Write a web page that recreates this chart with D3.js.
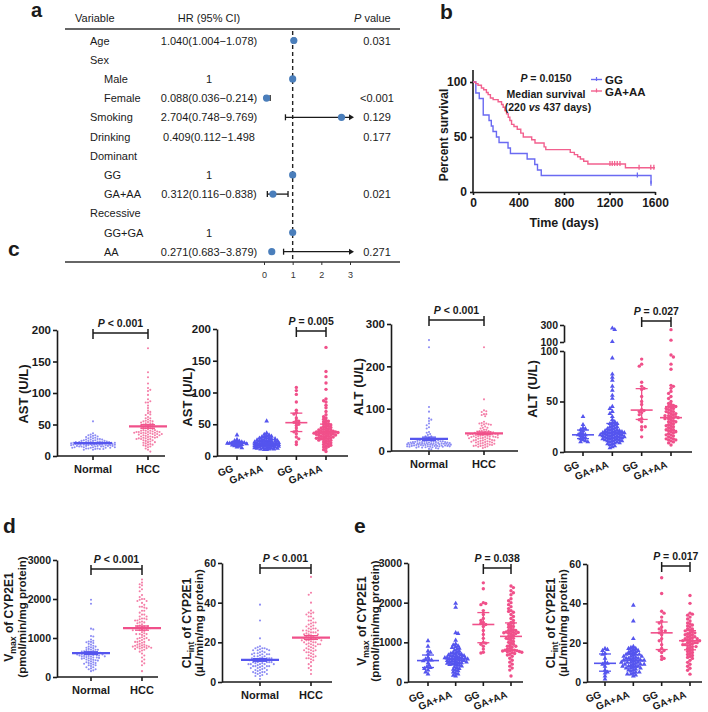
<!DOCTYPE html>
<html><head><meta charset="utf-8">
<script src="https://cdn.jsdelivr.net/npm/d3@7/dist/d3.min.js"></script>
<style>html,body{margin:0;padding:0;background:#fff;}svg{display:block;}</style>
</head><body>
<svg id="fig" width="708" height="712"></svg>
<script>
// ================= DATA =================
// Panel a: forest plot
const forestVars   = ["Age","Sex","Male","Female","Smoking","Drinking","Dominant","GG","GA+AA","Recessive","GG+GA","AA"];
const forestIndent = [0,0,1,1,0,0,0,1,1,0,1,1];
const forestHRText = ["1.040(1.004\u22121.078)","","1","0.088(0.036\u22120.214)","2.704(0.748\u22129.769)","0.409(0.112\u22121.498","","1","0.312(0.116\u22120.838)","","1","0.271(0.683\u22123.879)"];
const forestHR     = [1.040,null,1,0.088,2.704,null,null,1,0.312,null,1,0.271];
const forestLo     = [1.004,null,null,0.036,0.748,null,null,null,0.116,null,null,0.683];
const forestHi     = [1.078,null,null,0.214,9.769,null,null,null,0.838,null,null,3.879];
const forestP      = ["0.031","","","<0.001","0.129","0.177","","","0.021","","","0.271"];
const forestTicks  = [0,1,2,3];

// Panel b: Kaplan-Meier
const kmGGTime   = [0,25,55,90,141,161,176,206,229,308,329,476,543,567,600,1565];
const kmGGSurv   = [100,90,85,70,65,60,55,50,45,40,35,30,25,20,15,7.5];
const kmGGCensor = [1445,1565];
const kmPinkTime = [0,24,44,74,94,118,133,153,177,221,251,265,280,295,310,324,339,360,389,420,442,516,545,625,640,855,891,920,944,973,1010,1340,1600];
const kmPinkSurv = [100,98.5,97,94.5,93,90.5,88.5,85.5,84,82,79.5,77,74,71,68,65,61.5,59.5,57,53.5,50,47.5,44.5,41,38.5,36,34,32,30,28,25.5,22,22];
const kmPinkCensor = [1204,1224,1245,1268,1292,1460,1563,1590];
const kmXTicks = [0,400,800,1200,1600];
const kmYTicks = [0,50,100];

// Panel c: AST (U/L)
const astGGBlue   = [33,26,24,23,22,22,21,21,20,20,20,19,19,18,18,17,16,15,14,13];
const astGAAABlue = [55,36,34,33,32,31,30,29,28,28,27,26,26,25,25,24,24,23,23,22,22,22,21,21,21,20,20,20,20,19,19,19,19,18,18,18,18,17,17,17,16,16,16,15,15,15,14,14,14,13,13,13,12,12,12,11,11,11,10,10,20,19,18,17,16,15,22,24,27,30];
const astGGPink   = [108,103,97,85,72,68,66,60,56,55,53,52,50,48,44,40,38,35,30,27,22,18];
const astGAAAPink = [171,133,125,115,105,90,87,85,80,76,70,65,62,60,58,56,55,54,52,51,50,49,48,47,46,45,44,43,42,41,40,40,39,39,38,38,37,37,37,36,36,35,35,34,34,33,33,32,31,30,30,29,28,28,27,27,26,25,25,24,23,22,21,20,19,18,17,16,15,14,12,10,7,44,41,38,36,33,31,29];
// Panel c: ALT (U/L)
const altGGBlue   = [35,27,24,23,22,21,19,18,17,17,16,15,14,13,12,11,10,10];
const altGAAABlue = [262,245,104,93,77,74,71,65,61,56,53,45,43,40,38,35,32,30,29,28,28,27,26,25,25,24,23,23,22,22,21,21,20,20,20,19,19,19,18,18,18,17,17,17,16,16,16,15,15,15,14,14,14,13,13,13,12,12,12,11,11,11,10,10,9,9,8,8,7,6,5,4,21,19,17,15];
const altGGPink   = [92,87,85,69,65,63,62,55,50,47,42,41,40,39,37,33,32,30,25,25,22,15];
const altGAAAPink = [245,122,96,94,87,82,66,65,63,60,58,55,53,50,48,46,45,45,44,43,42,41,40,40,39,38,37,36,36,35,35,34,34,33,33,32,31,30,29,28,27,26,25,24,23,22,22,21,20,19,18,17,16,15,14,13,13,12,12,11,10,9,7,47,43,38,30,26,20,17];
// Panels d/e: Vmax (pmol/min/mg protein)
const vmaxGGBlue   = [1040,900,780,750,700,620,580,560,550,530,480,420,380,360,340,300,250,200];
const vmaxGAAABlue = [1980,1880,1240,1220,1050,960,930,910,890,870,850,830,800,780,760,740,720,700,690,680,660,650,640,630,620,610,600,600,590,580,570,560,550,540,530,520,510,500,490,480,470,460,450,440,430,420,400,380,360,340,320,300,280,250,220,200,170,150,620,580,540,500,700,660];
const vmaxGGPink   = [2500,2350,2000,1980,1950,1800,1700,1600,1550,1500,1480,1450,1400,1300,1200,1100,1000,980,950,900,830,750,730];
const vmaxGAAAPink = [2420,2380,2300,2250,2200,2100,2050,2000,1950,1900,1850,1800,1780,1760,1700,1650,1600,1550,1500,1480,1450,1420,1400,1380,1350,1320,1300,1280,1260,1250,1240,1230,1220,1200,1180,1150,1120,1100,1080,1050,1020,1000,980,950,920,900,880,850,830,810,800,790,780,770,760,750,740,720,700,680,650,600,550,500,450,400,350,300,150,1300,1250,1100,900,800,780];
// Panels d/e: CLint (uL/min/mg protein)
const clGGBlue   = [17,16.5,16,14.5,14,12,10,9.5,9,8,6,5,4.5,3,1.5];
const clGAAABlue = [39,31,22,18,17.5,17,17,16.5,16,16,15.5,15,15,14.5,14,14,13.5,13,13,12.5,12,12,12,11.5,11,11,11,10.5,10,10,10,9.5,9,9,9,8.5,8,8,8,7.5,7,7,7,6.5,6,6,5.5,5,5,4.5,4,4,3.5,3,11,12,10,9,13,14,8];
const clGGPink   = [53,45,36,35,33,31,30,28,27,26,26,25,24,22,21,19,17,16,16,15,13,12,11.5];
const clGAAAPink = [44,40,35,34.5,34,33,32,31,30,29.5,29,28.5,28,27,26.5,26,25.5,25,24.5,24,23.5,23,22.5,22,22,21.5,21,21,20.5,20,20,19.5,19,19,18.5,18,18,17.5,17,16.5,16,15.5,15,14.5,14,13.5,13,12.5,12,11,10,9,8,7,6,4,22,21,20,19,24,23,27,25];

const astTicks = [0,50,100,150,200];
const altTicks = [0,100,200,300];
const altLowTicks = [0,50,100];
const altHighTicks = [100,300];
const vmaxTicks = [0,1000,2000,3000];
const clTicks = [0,20,40,60];
const nhCats = ["Normal","HCC"];
const genoCats = ["GG","GA+AA","GG","GA+AA"];

// ================= DRAW =================
const FONT = "'Liberation Sans', Arial, Helvetica, sans-serif";
const BLUE="#5555ee", PINK="#f0508a", BLUE_L="#8c8cf4", PINK_L="#f47fa8", FOREST="#4a7ebb", INK="#1a1a1a";
const KMBLUE="#6a6af2", KMPINK="#f2608e";
const fmtInt = d3.format("d");
const svg = d3.select("#fig").style("font-family",FONT);

function txt(g,x,y,s,o={}){
  const t=g.append("text").attr("x",x).attr("y",y).text(s)
    .attr("font-size",o.size||11).attr("fill",o.fill||INK);
  if(o.bold) t.attr("font-weight","bold");
  if(o.anchor) t.attr("text-anchor",o.anchor);
  return t;
}
function pText(g,x,y,rest,size){
  const t=g.append("text").attr("x",x).attr("y",y).attr("font-size",size)
    .attr("font-weight","bold").attr("text-anchor","middle").attr("fill",INK);
  t.append("tspan").attr("font-style","italic").text("P");
  t.append("tspan").text(rest);
  return t;
}
function styleAxis(sel,size){
  sel.attr("font-family",FONT).attr("font-size",size);
  sel.selectAll(".domain").attr("stroke",INK).attr("stroke-width",1.6);
  sel.selectAll(".tick line").attr("stroke",INK).attr("stroke-width",1.6);
  sel.selectAll(".tick text").attr("font-weight","bold").attr("fill",INK);
}

// ---------- Panel a ----------
const gA = svg.append("g");
txt(gA,31,17,"a",{size:20,bold:true});
const fy = d3.scalePoint().domain(d3.range(forestVars.length)).range([40.5,251.7]);
const fx = d3.scaleLinear().domain([0,3]).range([264,350]);
txt(gA,75,22,"Variable",{size:11});
txt(gA,209,22,"HR (95% CI)",{size:11,anchor:"middle"});
{ const t=gA.append("text").attr("x",354).attr("y",22).attr("font-size",11).attr("fill",INK);
  t.append("tspan").attr("font-style","italic").text("P"); t.append("tspan").text(" value"); }
gA.append("line").attr("x1",65).attr("x2",400).attr("y1",29).attr("y2",29).attr("stroke","#333").attr("stroke-width",1.4);
gA.append("line").attr("x1",65).attr("x2",400).attr("y1",262).attr("y2",262).attr("stroke","#333").attr("stroke-width",1.4);
gA.append("line").attr("x1",fx(1)).attr("x2",fx(1)).attr("y1",31).attr("y2",262)
  .attr("stroke","#222").attr("stroke-width",1.4).attr("stroke-dasharray","4,3");
const arrowX = fx.range()[1]+4;
forestVars.forEach((v,i)=>{
  const y=fy(i);
  txt(gA, forestIndent[i]?104:90, y+4, v, {size:11});
  if(forestHRText[i]) txt(gA,209,y+4,forestHRText[i],{size:11,anchor:"middle"});
  if(forestP[i]) txt(gA,377,y+4,forestP[i],{size:11,anchor:"middle"});
  if(forestLo[i]!=null){
    const x1=fx(forestLo[i]);
    const clipped = forestHi[i]>fx.domain()[1];
    const x2 = clipped? arrowX-4 : fx(forestHi[i]);
    gA.append("line").attr("x1",x1).attr("x2",x2).attr("y1",y).attr("y2",y).attr("stroke",INK).attr("stroke-width",1.3);
    gA.append("line").attr("x1",x1).attr("x2",x1).attr("y1",y-3).attr("y2",y+3).attr("stroke",INK).attr("stroke-width",1.3);
    if(clipped){
      gA.append("path").attr("d",`M${arrowX},${y}L${arrowX-5},${y-3}L${arrowX-5},${y+3}Z`).attr("fill",INK);
    } else {
      gA.append("line").attr("x1",x2).attr("x2",x2).attr("y1",y-3).attr("y2",y+3).attr("stroke",INK).attr("stroke-width",1.3);
    }
  }
  if(forestHR[i]!=null) gA.append("circle").attr("cx",fx(forestHR[i])).attr("cy",y).attr("r",3.6).attr("fill",FOREST);
});
{ const ax=gA.append("g").attr("transform","translate(0,262)")
    .call(d3.axisBottom(fx).tickValues(forestTicks).tickSize(3).tickPadding(7).tickFormat(fmtInt));
  ax.select(".domain").remove();
  ax.attr("font-family",FONT).attr("font-size",9);
  ax.selectAll(".tick line").attr("stroke","#333");
  ax.selectAll(".tick text").attr("fill","#333");
}
txt(svg,8,256,"c",{size:21,bold:true});
txt(svg,3,533,"d",{size:21,bold:true});
txt(svg,354,533,"e",{size:21,bold:true});

// ---------- Panel b ----------
const gB = svg.append("g");
txt(gB,440,19,"b",{size:21,bold:true});
const kx=d3.scaleLinear().domain([0,1600]).range([473,655]);
const ky=d3.scaleLinear().domain([0,100]).range([192,82]);
gB.append("line").attr("x1",kx(0)).attr("x2",kx(0)).attr("y1",ky(0)).attr("y2",ky(111)).attr("stroke",INK).attr("stroke-width",1.6);
{ const a=gB.append("g").attr("transform",`translate(${kx(0)},0)`)
    .call(d3.axisLeft(ky).tickValues(kmYTicks).tickSize(3).tickPadding(3).tickSizeOuter(0).tickFormat(fmtInt));
  a.select(".domain").remove(); styleAxis(a,12); }
{ const a=gB.append("g").attr("transform",`translate(0,${ky(0)})`)
    .call(d3.axisBottom(kx).tickValues(kmXTicks).tickSize(3).tickPadding(3).tickSizeOuter(0).tickFormat(fmtInt));
  styleAxis(a,12); }
txt(gB,564,227,"Time (days)",{size:12.5,bold:true,anchor:"middle"});
gB.append("text").attr("transform","translate(448,135) rotate(-90)").attr("text-anchor","middle")
  .attr("font-size",12).attr("font-weight","bold").attr("fill",INK).text("Percent survival");
const stepLine=d3.line().x(d=>kx(d[0])).y(d=>ky(d[1])).curve(d3.curveStepAfter);
function survAt(times,survs,t){ return survs[Math.max(0,d3.bisectRight(times,t)-1)]; }
[[kmGGTime,kmGGSurv,kmGGCensor,KMBLUE],[kmPinkTime,kmPinkSurv,kmPinkCensor,KMPINK]].forEach(([T,S,C,col])=>{
  gB.append("path").attr("d",stepLine(T.map((t,i)=>[t,S[i]]))).attr("fill","none").attr("stroke",col).attr("stroke-width",1.4);
  C.forEach(t=>{ const yy=ky(survAt(T,S,t));
    gB.append("line").attr("x1",kx(t)).attr("x2",kx(t)).attr("y1",yy-3).attr("y2",yy+2).attr("stroke",col).attr("stroke-width",1.3); });
});
pText(gB,546,82," = 0.0150",10.5);
txt(gB,546,98,"Median survival",{size:10.5,bold:true,anchor:"middle"});
{ const t=gB.append("text").attr("x",548).attr("y",111).attr("font-size",10.5).attr("font-weight","bold").attr("text-anchor","middle").attr("fill",INK);
  t.append("tspan").text("(220 "); t.append("tspan").attr("font-style","italic").text("vs"); t.append("tspan").text(" 437 days)"); }
[["GG",KMBLUE,79.5],["GA+AA",KMPINK,91]].forEach(([lab,col,yy])=>{
  gB.append("line").attr("x1",591).attr("x2",602).attr("y1",yy).attr("y2",yy).attr("stroke",col).attr("stroke-width",1.4);
  gB.append("line").attr("x1",596.5).attr("x2",596.5).attr("y1",yy-2.5).attr("y2",yy+1.5).attr("stroke",col).attr("stroke-width",1.2);
  txt(gB,605,yy+4.5,lab,{size:11.5,bold:true});
});

// ---------- Scatter panels ----------
function swarm(vals,yf,cx,d,maxHalf){
  const pts=vals.map(v=>({v,y:yf(v)})).sort((a,b)=>a.y-b.y);
  const placed=[]; const step=d/2;
  pts.forEach((p,idx)=>{
    let best=0,bestScore=-1,found=false;
    const sgn = idx%2?1:-1;
    for(let k=0;k*step<=maxHalf && !found;k++){
      const cands=k===0?[0]:[sgn*k*step,-sgn*k*step];
      for(const off of cands){
        let minD=Infinity;
        for(const q of placed){
          const dy=q.y-p.y; if(Math.abs(dy)>=d) continue;
          const dx=q.x-(cx+off); const dd=Math.hypot(dx,dy); if(dd<minD) minD=dd;
        }
        if(minD>=d){best=off;found=true;break;}
        if(minD>bestScore){bestScore=minD;best=off;}
      }
    }
    p.x=cx+best; placed.push(p);
  });
  return placed;
}

function panel(cfg){
  const g=svg.append("g");
  const n=cfg.groups.length;
  const xs=d3.scalePoint().domain(d3.range(n)).range(cfg.catRange);
  const y=cfg.y, y0=y(0);
  cfg.groups.forEach((grp,i)=>{
    const cx=xs(i);
    const pts=swarm(grp.vals,y,cx,cfg.coll,cfg.maxHalf);
    if(grp.shape==="tri"){
      g.selectAll(null).data(pts).join("path").attr("d",d3.symbol(d3.symbolTriangle,cfg.symSize)())
        .attr("transform",d=>`translate(${d.x},${d.y})`).attr("fill",grp.color);
    } else {
      g.selectAll(null).data(pts).join("circle").attr("cx",d=>d.x).attr("cy",d=>d.y).attr("r",cfg.r).attr("fill",grp.color);
    }
    const s=grp.vals.slice().sort(d3.ascending);
    let c,lo,hi;
    if(cfg.stat==="mean"){ c=d3.mean(s); const se=d3.deviation(s)/Math.sqrt(s.length); lo=c-se; hi=c+se; }
    else { c=d3.quantileSorted(s,0.5); lo=d3.quantileSorted(s,0.25); hi=d3.quantileSorted(s,0.75); }
    const sc=grp.statColor;
    g.append("line").attr("x1",cx-cfg.mw).attr("x2",cx+cfg.mw).attr("y1",y(c)).attr("y2",y(c)).attr("stroke",sc).attr("stroke-width",cfg.sw);
    g.append("line").attr("x1",cx).attr("x2",cx).attr("y1",y(lo)).attr("y2",y(hi)).attr("stroke",sc).attr("stroke-width",1.3);
    [lo,hi].forEach(v=>g.append("line").attr("x1",cx-cfg.cw).attr("x2",cx+cfg.cw).attr("y1",y(v)).attr("y2",y(v)).attr("stroke",sc).attr("stroke-width",1.3));
  });
  // x axis
  g.append("line").attr("x1",cfg.axisX).attr("x2",cfg.axisEnd).attr("y1",y0).attr("y2",y0).attr("stroke",INK).attr("stroke-width",1.6);
  cfg.cats.forEach((lab,i)=>{
    const cx=xs(i);
    g.append("line").attr("x1",cx).attr("x2",cx).attr("y1",y0).attr("y2",y0+4).attr("stroke",INK).attr("stroke-width",1.6);
    if(cfg.rotate){
      g.append("text").attr("transform",`translate(${cx-3},${y0+15}) rotate(-22)`).attr("text-anchor","end")
        .attr("font-size",10).attr("font-weight","bold").attr("fill",INK).text(lab);
    } else {
      txt(g,cx,y0+17,lab,{size:11,bold:true,anchor:"middle"});
    }
  });
  // y axes
  cfg.yAxes.forEach(a=>{
    const ax=g.append("g").attr("transform",`translate(${cfg.axisX},0)`)
      .call(d3.axisLeft(a.scale).tickValues(a.ticks).tickSize(4).tickPadding(2).tickSizeOuter(0).tickFormat(fmtInt));
    styleAxis(ax,cfg.tickSize);
  });
  // bracket
  const bx1=xs(cfg.bracket[0]), bx2=xs(cfg.bracket[1]), by=cfg.bracketY;
  g.append("line").attr("x1",bx1).attr("x2",bx2).attr("y1",by).attr("y2",by).attr("stroke",INK).attr("stroke-width",1.5);
  [bx1,bx2].forEach(xx=>g.append("line").attr("x1",xx).attr("x2",xx).attr("y1",by-4).attr("y2",by+6).attr("stroke",INK).attr("stroke-width",1.5));
  pText(g,(bx1+bx2)/2,by-6,cfg.pText,10.5);
  // y label
  cfg.ylab.forEach(l=>{
    const t=g.append("text").attr("transform",`translate(${l.x},${cfg.ylabY}) rotate(-90)`).attr("text-anchor","middle")
      .attr("font-size",l.size).attr("font-weight","bold").attr("fill",INK);
    l.parts.forEach(p=>{ const ts=t.append("tspan").text(p.t); if(p.sub) ts.attr("font-size",l.size*0.72).attr("dy",3); if(p.after) ts.attr("dy",-3); });
  });
}

const nhStyle = {stat:"mean",coll:2.3,maxHalf:22,r:1.05,symSize:8,mw:19,cw:7,sw:2.2,rotate:false};
const gtStyle = {stat:"median",coll:2.4,maxHalf:13,r:1.7,symSize:10,mw:11,cw:6,sw:1.6,rotate:true};
function nhGroups(b,p){ return [
  {vals:b,color:BLUE_L,statColor:BLUE,shape:"circle"},
  {vals:p,color:PINK_L,statColor:PINK,shape:"circle"}]; }
function gtGroups(b1,b2,p1,p2){ return [
  {vals:b1,color:BLUE,statColor:BLUE,shape:"tri"},
  {vals:b2,color:BLUE,statColor:BLUE,shape:"tri"},
  {vals:p1,color:PINK,statColor:PINK,shape:"circle"},
  {vals:p2,color:PINK,statColor:PINK,shape:"circle"}]; }

// c1 AST normal vs HCC
{ const s=d3.scaleLinear().domain([0,200]).range([456,330]);
  panel({...nhStyle,y:s,yAxes:[{scale:s,ticks:astTicks}],tickSize:11.5,axisX:57,axisEnd:165,catRange:[93,148],cats:nhCats,
    groups:nhGroups(astGGBlue.concat(astGAAABlue),astGGPink.concat(astGAAAPink)),
    bracket:[0,1],bracketY:333,pText:" < 0.001",ylabY:394,ylab:[{x:28,size:13,parts:[{t:"AST (U/L)"}]}]}); }
// c2 AST genotype
{ const s=d3.scaleLinear().domain([0,200]).range([456,329]);
  panel({...gtStyle,y:s,yAxes:[{scale:s,ticks:astTicks}],tickSize:11.5,axisX:217,axisEnd:348,catRange:[237,326],cats:genoCats,
    groups:gtGroups(astGGBlue,astGAAABlue,astGGPink,astGAAAPink),
    bracket:[2,3],bracketY:331,pText:" = 0.005",ylabY:397,ylab:[{x:192,size:13,parts:[{t:"AST (U/L)"}]}]}); }
// c3 ALT normal vs HCC
{ const s=d3.scaleLinear().domain([0,300]).range([451,324]);
  panel({...nhStyle,y:s,yAxes:[{scale:s,ticks:altTicks}],tickSize:11.5,axisX:391,axisEnd:518,catRange:[429,484],cats:nhCats,
    groups:nhGroups(altGGBlue.concat(altGAAABlue),altGGPink.concat(altGAAAPink)),
    bracket:[0,1],bracketY:320,pText:" < 0.001",ylabY:387,ylab:[{x:363,size:13,parts:[{t:"ALT (U/L)"}]}]}); }
// c4 ALT genotype, broken axis
{ const lo=d3.scaleLinear().domain([0,100]).range([452,351]);
  const hi=d3.scaleLinear().domain([100,300]).range([342,325]);
  const s=v=>v<=100?lo(v):hi(v);
  panel({...gtStyle,y:s,yAxes:[{scale:lo,ticks:altLowTicks},{scale:hi,ticks:altHighTicks}],tickSize:10.5,axisX:564,axisEnd:692,catRange:[583,671],cats:genoCats,
    groups:gtGroups(altGGBlue,altGAAABlue,altGGPink,altGAAAPink),
    bracket:[2,3],bracketY:321,pText:" = 0.027",ylabY:389,ylab:[{x:537,size:13,parts:[{t:"ALT (U/L)"}]}]}); }
// d1 Vmax
const vmaxLab = x1=>[{x:x1,size:12,parts:[{t:"V"},{t:"max",sub:true},{t:" of CYP2E1",after:true}]}];
const clLab = x1=>[{x:x1,size:12,parts:[{t:"CL"},{t:"int",sub:true},{t:" of CYP2E1",after:true}]}];
{ const s=d3.scaleLinear().domain([0,3000]).range([677,560]);
  panel({...nhStyle,y:s,yAxes:[{scale:s,ticks:vmaxTicks}],tickSize:10.5,axisX:57,axisEnd:158,catRange:[91,142],cats:nhCats,
    groups:nhGroups(vmaxGGBlue.concat(vmaxGAAABlue),vmaxGGPink.concat(vmaxGAAAPink)),
    bracket:[0,1],bracketY:569,pText:" < 0.001",ylabY:617,
    ylab:vmaxLab(13).concat([{x:26,size:11.5,parts:[{t:"(pmol/min/mg protein)"}]}])}); }
// d2 CLint
{ const s=d3.scaleLinear().domain([0,60]).range([682,563]);
  panel({...nhStyle,y:s,yAxes:[{scale:s,ticks:clTicks}],tickSize:10.5,axisX:222,axisEnd:332,catRange:[260,311],cats:nhCats,
    groups:nhGroups(clGGBlue.concat(clGAAABlue),clGGPink.concat(clGAAAPink)),
    bracket:[0,1],bracketY:568,pText:" < 0.001",ylabY:623,
    ylab:clLab(191).concat([{x:203,size:11.5,parts:[{t:"(\u00b5L/min/mg protein)"}]}])}); }
// e1 Vmax genotype
{ const s=d3.scaleLinear().domain([0,3000]).range([682,563]);
  panel({...gtStyle,y:s,yAxes:[{scale:s,ticks:vmaxTicks}],tickSize:10.5,axisX:408,axisEnd:523,catRange:[428,511],cats:genoCats,
    groups:gtGroups(vmaxGGBlue,vmaxGAAABlue,vmaxGGPink,vmaxGAAAPink),
    bracket:[2,3],bracketY:568,pText:" = 0.038",ylabY:621,
    ylab:vmaxLab(366).concat([{x:379,size:11.5,parts:[{t:"(pmol/min/mg protein)"}]}])}); }
// e2 CLint genotype
{ const s=d3.scaleLinear().domain([0,60]).range([682,564]);
  panel({...gtStyle,y:s,yAxes:[{scale:s,ticks:clTicks}],tickSize:10.5,axisX:587,axisEnd:702,catRange:[605,690],cats:genoCats,
    groups:gtGroups(clGGBlue,clGAAABlue,clGGPink,clGAAAPink),
    bracket:[2,3],bracketY:566,pText:" = 0.017",ylabY:623,
    ylab:clLab(555).concat([{x:567,size:11.5,parts:[{t:"(\u00b5L/min/mg protein)"}]}])}); }
</script>
</body></html>
